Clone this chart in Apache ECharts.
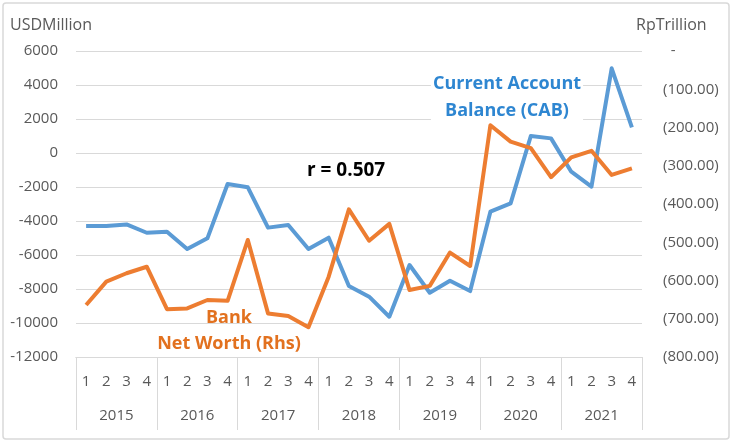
<!DOCTYPE html>
<html>
<head>
<meta charset="utf-8">
<script src="https://cdn.jsdelivr.net/npm/echarts@6/dist/echarts.min.js"></script>
<style>
	html, body { margin: 0; padding: 0; background: #fff; }
	#chart { width: 732px; height: 443px; }
</style>
</head>
<body>
<div id="chart"></div>
<script>
// quarters & years (2015Q1 - 2021Q4)
var years = ['2015', '2016', '2017', '2018', '2019', '2020', '2021'];
var quarters = [];
for (var y = 0; y < years.length; y++) {
	quarters.push('1', '2', '3', '4');
}

// Current Account Balance, USD million (left axis)
var cab = [
	-4300, -4300, -4200, -4690,
	-4630, -5650, -5020, -1820,
	-2020, -4390, -4240, -5650,
	-4980, -7820, -8450, -9630,
	-6590, -8220, -7510, -8120,
	-3450, -2960, 1000, 860,
	-1100, -1980, 4980, 1510
];

// Bank net worth, Rp trillion (right axis, shown negative)
var netWorth = [
	-664, -603, -581, -564,
	-675, -673, -651, -653,
	-494, -686, -693, -722,
	-590, -414, -496, -452,
	-625, -614, -527, -562,
	-194, -237, -254, -330,
	-278, -261, -324, -307
];

var chart = echarts.init(document.getElementById('chart'));
var labelColor = '#595959';
var gridColor = '#D9D9D9';
var font = '"Open Sans", "Noto Sans", sans-serif';

var option = {
	animation: false,
	grid: { left: 76, right: 90, top: 51, bottom: 86 },
	textStyle: { fontFamily: font },
	xAxis: [{
		type: 'category',
		data: quarters,
		boundaryGap: true,
		axisLine: { show: true, onZero: false, lineStyle: { color: gridColor, width: 1 } },
		axisTick: { show: false },
		axisLabel: { color: labelColor, fontSize: 15, margin: 17, interval: 0 }
	}, {
		type: 'category',
		data: years,
		position: 'bottom',
		boundaryGap: true,
		axisLine: { show: true, onZero: false, lineStyle: { color: gridColor, width: 1 } },
		axisTick: { show: true, length: 73, interval: 0, lineStyle: { color: gridColor } },
		axisLabel: { color: labelColor, fontSize: 15, margin: 51, interval: 0 },
		splitLine: { show: false }
	}],
	yAxis: [{
		type: 'value',
		min: -12000,
		max: 6000,
		interval: 2000,
		axisLine: { show: false },
		axisTick: { show: false },
		axisLabel: {
			color: labelColor, fontSize: 15, margin: 18,
			formatter: function (v) { return String(v); }
		},
		splitLine: { lineStyle: { color: gridColor, width: 1 } }
	}, {
		type: 'value',
		min: -800,
		max: 0,
		interval: 100,
		axisLine: { show: false },
		axisTick: { show: false },
		axisLabel: {
			color: labelColor, fontSize: 15, margin: 21,
			formatter: function (v) {
				return v === 0 ? '  -' : '(' + (-v).toFixed(2) + ')';
			}
		},
		splitLine: { show: false }
	}],
	series: [{
		name: 'Current Account Balance (CAB)',
		type: 'line',
		data: cab,
		yAxisIndex: 0,
		symbol: 'none',
		lineStyle: { color: '#5B9BD5', width: 4, join: 'round' },
		z: 3
	}, {
		name: 'Bank Net Worth (Rhs)',
		type: 'line',
		data: netWorth,
		yAxisIndex: 1,
		symbol: 'none',
		lineStyle: { color: '#ED7D31', width: 4, join: 'round' },
		z: 4
	}],
	graphic: [
		{ type: 'rect', shape: { x: 3, y: 3, width: 726, height: 436, r: 3 },
			style: { fill: 'none', stroke: gridColor, lineWidth: 1.5 }, silent: true },
		{ type: 'text', left: 10, top: 17,
			style: { text: 'USDMillion', fill: labelColor, font: '16px ' + font } },
		{ type: 'text', left: 636, top: 17,
			style: { text: 'RpTrillion', fill: labelColor, font: '16px ' + font } },
		{ type: 'text', left: 307, top: 161,
			style: { text: 'r = 0.507', fill: '#000', font: 'bold 19px ' + font } },
		{ type: 'text', x: 507, y: 70, z: 1,
			style: { text: 'Current Account\nBalance (CAB)', fill: '#2E86D1', font: 'bold 18px ' + font,
				align: 'center', lineHeight: 27, backgroundColor: '#fff', padding: [0, 2, 0, 2] } },
		{ type: 'text', x: 229, y: 305,
			style: { text: 'Bank\nNet Worth (Rhs)', fill: '#E2711F', font: 'bold 18px ' + font,
				align: 'center', lineHeight: 26 } }
	]
};

chart.setOption(option);
</script>
</body>
</html>
